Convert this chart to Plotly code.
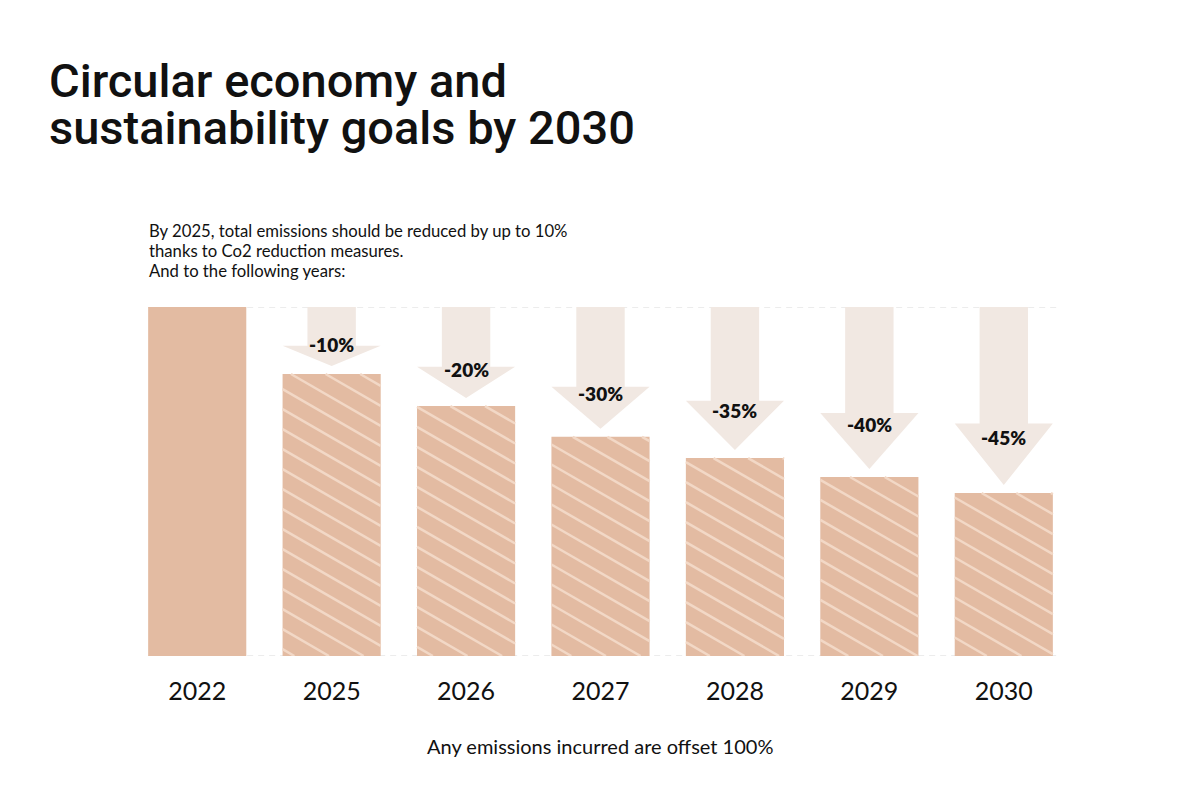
import math
import plotly.graph_objects as go

# ---------------- data ----------------
years = ["2022", "2025", "2026", "2027", "2028", "2029", "2030"]
values = [100, 80.8, 71.6, 62.8, 56.7, 51.3, 46.7]
reductions = ["", "-10%", "-20%", "-30%", "-35%", "-40%", "-45%"]
hatched = [False, True, True, True, True, True, True]

title_lines = ["Circular economy and", "sustainability goals by 2030"]
intro_lines = [
    "By 2025, total emissions should be reduced by up to 10%",
    "thanks to Co2 reduction measures.",
    "And to the following years:",
]
footnote = "Any emissions incurred are offset 100%"

# ---------------- style ----------------
BAR = "#e3bba2"
HATCH = "#f2d8c6"
ARROW = "#f1e8e2"
DASH = "#d9d9d9"
TEXT = "#111111"

W, H = 1200, 800
ML, MR, MT, MB = 130, 128.5, 307, 144
XR = (-0.5, 6.5)
YR = (0, 100)
PW = W - ML - MR
PH = H - MT - MB
BAR_W = 0.73
SHAFT_HW = 0.18
HEAD_HW = 0.365


def px(x):
    return ML + (x - XR[0]) / (XR[1] - XR[0]) * PW


def py(y):
    return MT + (YR[1] - y) / (YR[1] - YR[0]) * PH


def dx(p):
    return XR[0] + (p - ML) / PW * (XR[1] - XR[0])


def dy(p):
    return YR[1] - (p - MT) / PH * (YR[1] - YR[0])


def paper_x(p):
    return (p - ML) / PW


def paper_y(p):
    return (H - MB - p) / PH


fig = go.Figure()

# ---------------- arrows ----------------
gap = 8 / PH * (YR[1] - YR[0])
label_pos = []
for i, (v, lab) in enumerate(zip(values, reductions)):
    if not lab:
        label_pos.append(None)
        continue
    tip = v + gap
    L = YR[1] - tip
    hh = 0.345 * L
    base = tip + hh
    xs = [i - SHAFT_HW, i + SHAFT_HW, i + SHAFT_HW, i + HEAD_HW, i, i - HEAD_HW, i - SHAFT_HW, i - SHAFT_HW]
    ys = [YR[1], YR[1], base, base, tip, base, base, YR[1]]
    fig.add_trace(go.Scatter(x=xs, y=ys, fill="toself", fillcolor=ARROW, mode="lines",
                             line=dict(width=0, color=ARROW), hoverinfo="skip", showlegend=False))
    label_pos.append(tip + 0.65 * hh + 8 / PH * 100)

# ---------------- bars ----------------
fig.add_trace(go.Bar(x=list(range(len(years))), y=values, width=BAR_W,
                     marker=dict(color=BAR, line=dict(width=0)), hoverinfo="skip", showlegend=False))

# ---------------- hatching (clipped diagonal lines) ----------------
k = math.tan(math.radians(30))
spacing = 20.0
hx, hy = [], []
for i, (v, h) in enumerate(zip(values, hatched)):
    if not h:
        continue
    x0, x1 = px(i - BAR_W / 2), px(i + BAR_W / 2)
    yt, yb = py(v), py(0)
    cmin = yt - k * x1
    cmax = yb - k * x0
    n0 = math.floor(cmin / spacing)
    n1 = math.ceil(cmax / spacing)
    for n in range(n0, n1 + 1):
        c = n * spacing + 6
        xa = max(x0, (yt - c) / k)
        xb = min(x1, (yb - c) / k)
        if xb - xa < 1:
            continue
        ya = k * xa + c
        yb2 = k * xb + c
        hx += [dx(xa), dx(xb), None]
        hy += [dy(ya), dy(yb2), None]
fig.add_trace(go.Scatter(x=hx, y=hy, mode="lines", line=dict(color=HATCH, width=2.5),
                         hoverinfo="skip", showlegend=False))

# ---------------- reduction labels ----------------
for i, lab in enumerate(reductions):
    if not lab:
        continue
    fig.add_annotation(x=i, y=label_pos[i], xref="x", yref="y", text=lab, showarrow=False,
                       font=dict(family="Lato", size=19, color=TEXT, weight=800),
                       xanchor="center", yanchor="middle")

# ---------------- dashed reference lines ----------------
for yv in (YR[1], YR[0]):
    fig.add_shape(type="line", xref="x", yref="y", x0=-BAR_W / 2, x1=len(years) - 1 + 0.4,
                  y0=yv, y1=yv, line=dict(color=DASH, width=1.2, dash="6px,5px"), layer="below")

# ---------------- titles & texts ----------------
for line, ypix in zip(title_lines, [80, 128]):
    fig.add_annotation(x=paper_x(47), y=paper_y(ypix), xref="paper", yref="paper", text=line,
                       showarrow=False, xanchor="left", yanchor="middle",
                       font=dict(family="Roboto", size=47, color=TEXT, weight=500))
for line, ypix in zip(intro_lines, [231, 251, 271]):
    fig.add_annotation(x=paper_x(147), y=paper_y(ypix), xref="paper", yref="paper", text=line,
                       showarrow=False, xanchor="left", yanchor="middle",
                       font=dict(family="Lato", size=16.7, color=TEXT))
fig.add_annotation(x=paper_x(600), y=paper_y(746), xref="paper", yref="paper", text=footnote,
                   showarrow=False, xanchor="center", yanchor="middle",
                   font=dict(family="Lato", size=20, color=TEXT))

fig.update_layout(
    width=W, height=H,
    margin=dict(l=ML, r=MR, t=MT, b=MB),
    paper_bgcolor="white", plot_bgcolor="white",
    xaxis=dict(range=list(XR), tickmode="array", tickvals=list(range(len(years))), ticktext=years,
               showgrid=False, zeroline=False, showline=False, ticks="",
               tickfont=dict(family="Lato", size=25, color=TEXT), ticklabelstandoff=18,
               fixedrange=True),
    yaxis=dict(range=list(YR), visible=False, fixedrange=True),
    showlegend=False,
)

fig.write_html("out.html")
